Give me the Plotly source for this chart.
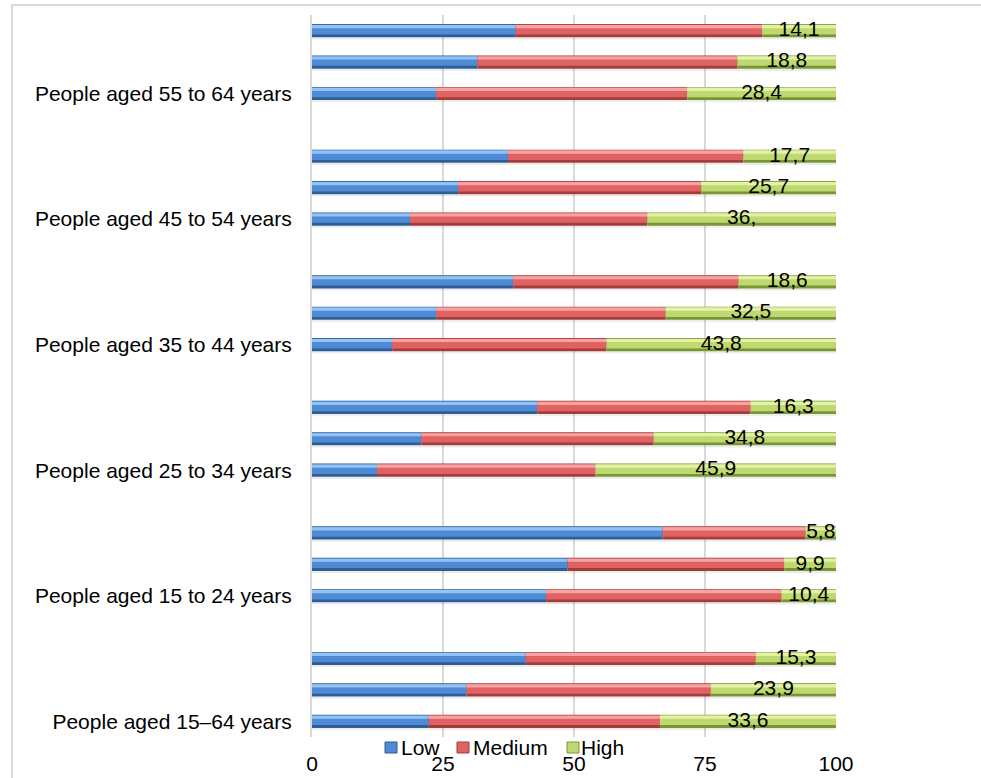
import plotly.graph_objects as go

# Age groups, bottom to top; each group has three bars (bottom, middle, top)
groups = [
    "People aged 15–64 years",
    "People aged 15 to 24 years",
    "People aged 25 to 34 years",
    "People aged 35 to 44 years",
    "People aged 45 to 54 years",
    "People aged 55 to 64 years",
]

# Shares (%) per bar, listed group by group, bottom bar first
low = [22.3, 29.5, 40.8,
       44.7, 48.8, 66.9,
       12.4, 20.9, 43.0,
       15.3, 23.7, 38.4,
       18.7, 27.9, 37.4,
       23.7, 31.6, 38.9]
medium = [44.1, 46.6, 43.9,
          44.9, 41.3, 27.3,
          41.7, 44.3, 40.7,
          40.9, 43.8, 43.0,
          45.3, 46.4, 44.9,
          47.9, 49.6, 47.0]
high = [33.6, 23.9, 15.3,
        10.4, 9.9, 5.8,
        45.9, 34.8, 16.3,
        43.8, 32.5, 18.6,
        36.0, 25.7, 17.7,
        28.4, 18.8, 14.1]
high_text = ["33,6", "23,9", "15,3",
             "10,4", "9,9", "5,8",
             "45,9", "34,8", "16,3",
             "43,8", "32,5", "18,6",
             "36,", "25,7", "17,7",
             "28,4", "18,8", "14,1"]

x_ticks = [0, 25, 50, 75, 100]

FONT = "Arial, Liberation Sans, sans-serif"
FS = 21

W, H = 981, 778
ML, MR, MT, MB = 312, 145, 15, 41
PW, PH = W - ML - MR, H - MT - MB


def px_x(p):
    """pixel column -> paper x"""
    return (p - ML) / PW


def px_y(p):
    """pixel row -> paper y"""
    return (H - MB - p) / PH


# bar row positions: three rows per group plus an empty row between groups
ypos = [4 * g + k for g in range(len(groups)) for k in range(3)]
tick_pos = [4 * g for g in range(len(groups))]

base_med = low
base_high = [a + b for a, b in zip(low, medium)]

series = [
    ("Low", low, [0] * len(low), ("#2f5d96", "#4f8ad4", "#93c2f4")),
    ("Medium", medium, base_med, ("#a33c3a", "#e06363", "#f7a3a3")),
    ("High", high, base_high, ("#7a9634", "#bfd970", "#e4f2a8")),
]

fig = go.Figure()

# soft shadow under each full bar
fig.add_trace(go.Bar(
    x=[a + b + c for a, b, c in zip(low, medium, high)], y=ypos, base=0,
    orientation="h", width=0.07, offset=-0.28,
    marker=dict(color="rgba(0,0,0,0.07)", line=dict(width=0)),
    showlegend=False, hoverinfo="skip",
))

for name, vals, base, (dark, body, light) in series:
    # dark edge
    fig.add_trace(go.Bar(
        x=vals, y=ypos, base=base, orientation="h",
        width=0.42, offset=-0.21,
        marker=dict(color=dark, line=dict(width=0)),
        showlegend=False, hoverinfo="skip",
    ))
    # body
    fig.add_trace(go.Bar(
        x=vals, y=ypos, base=base, orientation="h",
        width=0.31, offset=-0.12,
        marker=dict(color=body, line=dict(width=0)),
        name=name, showlegend=False,
    ))
    # highlight stripe
    fig.add_trace(go.Bar(
        x=vals, y=ypos, base=base, orientation="h",
        width=0.1, offset=0.08,
        marker=dict(color=light, line=dict(width=0)),
        showlegend=False, hoverinfo="skip",
    ))

# value labels centred on the High segment
fig.add_trace(go.Scatter(
    x=[b + h / 2 for b, h in zip(base_high, high)], y=ypos,
    mode="text", text=high_text, textposition="middle center",
    textfont=dict(family=FONT, size=FS, color="#000000"),
    showlegend=False, hoverinfo="skip", cliponaxis=False,
))

# compact legend row below the bars: swatch + label
legend_items = [("Low", 385, 400), ("Medium", 457, 472), ("High", 567, 580)]
shapes = [dict(
    type="rect", xref="paper", yref="paper",
    x0=px_x(12), x1=px_x(1000), y0=px_y(800), y1=px_y(5),
    line=dict(color="#d9d9d9", width=2), fillcolor="rgba(0,0,0,0)",
    layer="below",
)]
annotations = []
for (name, sx, tx), (_, _, _, (dark, body, light)) in zip(legend_items, series):
    shapes.append(dict(
        type="rect", xref="paper", yref="paper",
        x0=px_x(sx), x1=px_x(sx + 12), y0=px_y(753), y1=px_y(742),
        line=dict(color=dark, width=1), fillcolor=body, layer="above",
    ))
    annotations.append(dict(
        text=name, xref="paper", yref="paper", x=px_x(tx), y=px_y(747),
        xanchor="left", yanchor="middle", showarrow=False, borderpad=0,
        font=dict(family=FONT, size=FS, color="#000000"),
    ))

fig.update_layout(
    width=W, height=H,
    margin=dict(l=ML, r=MR, t=MT, b=MB, autoexpand=False),
    barmode="overlay",
    showlegend=False,
    plot_bgcolor="white", paper_bgcolor="white",
    font=dict(family=FONT, size=FS, color="#000000"),
    xaxis=dict(
        range=[0, 100], tickvals=x_ticks, ticktext=[str(t) for t in x_ticks],
        showgrid=True, gridcolor="#d9d9d9", gridwidth=1.5,
        zeroline=False, showline=False, ticks="",
        ticklabelstandoff=12, automargin=False,
        tickfont=dict(family=FONT, size=FS, color="#000000"),
    ),
    yaxis=dict(
        range=[-0.5, 22.5], tickvals=tick_pos, ticktext=groups,
        showgrid=False, zeroline=False,
        showline=True, linecolor="#d9d9d9", linewidth=2,
        ticks="", ticklabelstandoff=14, automargin=False,
        tickfont=dict(family=FONT, size=FS, color="#000000"),
    ),
    shapes=shapes,
    annotations=annotations,
)

fig.write_html("out.html")
